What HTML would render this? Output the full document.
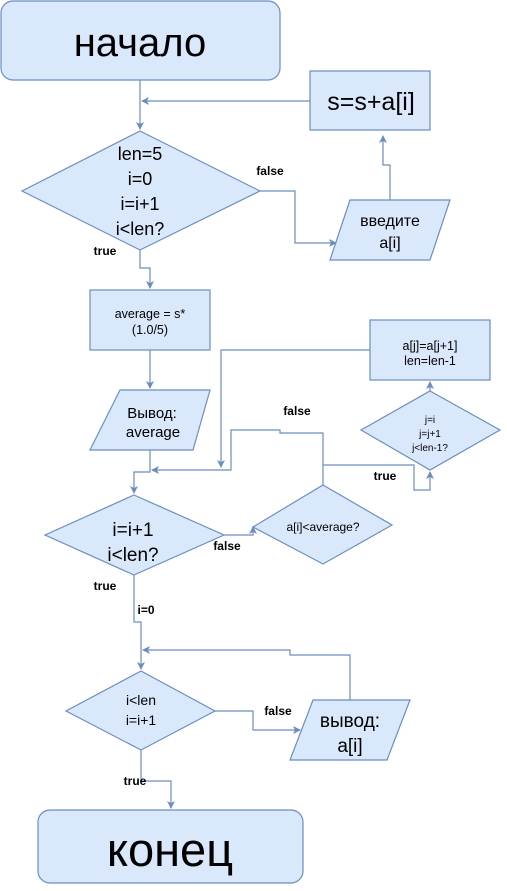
<!DOCTYPE html>
<html><head><meta charset="utf-8"><style>
html,body{margin:0;padding:0;background:#fff}
svg{display:block}
text{font-family:"Liberation Sans",sans-serif;fill:#000;text-anchor:middle}
.l{font-weight:bold;font-size:12px}
</style></head><body>
<svg width="507" height="891" viewBox="0 0 507 891" xmlns="http://www.w3.org/2000/svg">
<defs>
<marker id="a" markerWidth="8" markerHeight="8" refX="7" refY="4" orient="auto" markerUnits="userSpaceOnUse">
<path d="M0,0 L8,4 L0,8 L2,4 Z" fill="#6c8ebf"/></marker>
</defs>
<g fill="#dae8fc" stroke="#6c8ebf" stroke-width="1.2">
<rect x="1" y="1" width="279" height="79" rx="12"/>
<rect x="310" y="71" width="120" height="59"/>
<polygon points="140,131 260,191 140,250 22,191"/>
<polygon points="350,200 450,200 430,260 330,260"/>
<rect x="90" y="290" width="120" height="60"/>
<polygon points="120,390 210,390 193,450 90,450"/>
<polygon points="134,495 224,535 134,575 45,535"/>
<polygon points="323,485 392,525 323,564 253,527"/>
<polygon points="430,391 500,430 430,470 361,430"/>
<rect x="370" y="320" width="120" height="60"/>
<polygon points="141,671 215,711 141,750 66,711"/>
<polygon points="313,700 410,700 387,760 290,760"/>
<rect x="38" y="810" width="265" height="73" rx="12"/>
</g>
<g fill="none" stroke="#6c8ebf" stroke-width="1.2">
<path d="M140,80 V129" marker-end="url(#a)"/>
<path d="M310,101 H142" marker-end="url(#a)"/>
<path d="M260,191 H295 V243 H336" marker-end="url(#a)"/>
<path d="M390,200 V165 H383 V136" marker-end="url(#a)"/>
<path d="M140,250 V268 H150 V288" marker-end="url(#a)"/>
<path d="M150,350 V388" marker-end="url(#a)"/>
<path d="M150,450 V472 H134 V493" marker-end="url(#a)"/>
<path d="M224,535 H253 V527" marker-end="url(#a)"/>
<path d="M323,485 V433 H280 V430 H231 V470 H152" marker-end="url(#a)"/>
<path d="M323,465 H414 V490 H430 V472" marker-end="url(#a)"/>
<path d="M430,391 V382" marker-end="url(#a)"/>
<path d="M370,350 H221 V467" marker-end="url(#a)"/>
<path d="M134,575 V622 H141 V669" marker-end="url(#a)"/>
<path d="M350,700 V655 H290 V650 H143" marker-end="url(#a)"/>
<path d="M215,711 H253 V730 H300" marker-end="url(#a)"/>
<path d="M141,750 V781 H171 V808" marker-end="url(#a)"/>
</g>
<text x="140" y="56" font-size="40">начало</text>
<text x="371" y="110" font-size="25">s=s+a[i]</text>
<g font-size="18"><text x="140" y="160">len=5</text><text x="140" y="185">i=0</text><text x="140" y="210">i=i+1</text><text x="140" y="235">i&lt;len?</text></g>
<text x="390" y="226" font-size="16">введите</text><text x="390" y="248" font-size="16">a[i]</text>
<text x="150" y="318" font-size="12.5">average = s*</text><text x="150" y="334" font-size="12.5">(1.0/5)</text>
<text x="152" y="418" font-size="15">Вывод:</text><text x="153" y="437" font-size="15">average</text>
<text x="133" y="536" font-size="19">i=i+1</text><text x="133" y="561" font-size="19">i&lt;len?</text>
<text x="323" y="531" font-size="12">a[i]&lt;average?</text>
<text x="430" y="423" font-size="10">j=i</text><text x="430" y="437" font-size="10">j=j+1</text><text x="430" y="451" font-size="10">j&lt;len-1?</text>
<text x="430" y="350" font-size="12.5">a[j]=a[j+1]</text><text x="430" y="365" font-size="12.5">len=len-1</text>
<text x="141" y="705" font-size="14">i&lt;len</text><text x="141" y="725" font-size="14">i=i+1</text>
<text x="350" y="727" font-size="19">вывод:</text><text x="350" y="752" font-size="19">a[i]</text>
<text x="170" y="866" font-size="47">конец</text>
<text class="l" x="270" y="175">false</text>
<text class="l" x="105" y="255">true</text>
<text class="l" x="297" y="415">false</text>
<text class="l" x="227" y="550">false</text>
<text class="l" x="385" y="480">true</text>
<text class="l" x="105" y="590">true</text>
<text class="l" x="146" y="614">i=0</text>
<text class="l" x="278" y="715">false</text>
<text class="l" x="135" y="785">true</text>
</svg>
</body></html>
